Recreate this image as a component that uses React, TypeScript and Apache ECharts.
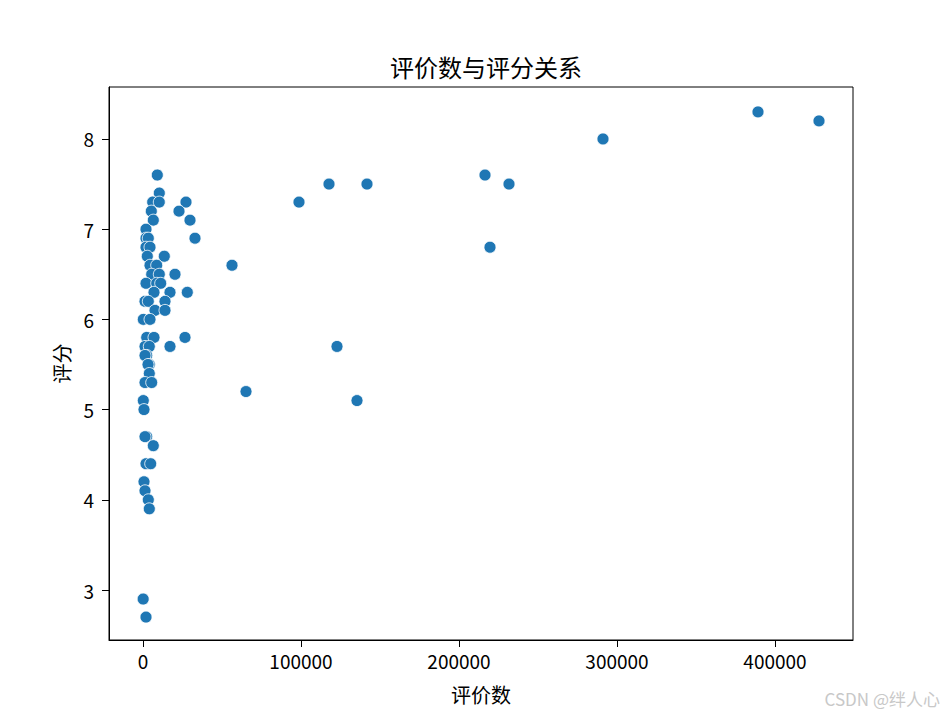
import React, { useEffect, useRef } from "react";
import * as echarts from "echarts";

const reviewCounts: number[] = [
  9051, 10316, 6139, 10300, 27215, 5253, 22785, 6519, 29747, 1899,
  1899, 3354, 32911, 1899, 4430, 2721, 13481, 4430, 8671, 5506,
  10316, 20253, 1899, 8671, 11200, 6962, 17089, 28038, 1266, 3354,
  13924, 7595, 13924, 190, 4430, 2342, 6962, 26582, 1266, 3987,
  17089, 2342, 1266, 3987, 3165, 3987, 1266, 5506, 65190, 190,
  135443, 633, 2342, 1266, 6519, 1899, 4873, 633, 1266, 3354,
  3987, 100, 1899, 56329, 98734, 117722, 141772, 231646, 216456, 219620,
  122785, 291139, 389240, 427848,
];
const ratings: number[] = [
  7.6, 7.4, 7.3, 7.3, 7.3, 7.2, 7.2, 7.1, 7.1, 7.0,
  6.9, 6.9, 6.9, 6.8, 6.8, 6.7, 6.7, 6.6, 6.6, 6.5,
  6.5, 6.5, 6.4, 6.4, 6.4, 6.3, 6.3, 6.3, 6.2, 6.2,
  6.2, 6.1, 6.1, 6.0, 6.0, 5.8, 5.8, 5.8, 5.7, 5.7,
  5.7, 5.6, 5.6, 5.5, 5.5, 5.4, 5.3, 5.3, 5.2, 5.1,
  5.1, 5.0, 4.7, 4.7, 4.6, 4.4, 4.4, 4.2, 4.1, 4.0,
  3.9, 2.9, 2.7, 6.6, 7.3, 7.5, 7.5, 7.5, 7.6, 6.8,
  5.7, 8.0, 8.3, 8.2,
];
const xTicks: number[] = [0, 100000, 200000, 300000, 400000];
const yTicks: number[] = [3, 4, 5, 6, 7, 8];

const FONT = "'Noto Sans CJK SC', 'Noto Sans', sans-serif";

export default function App() {
  const ref = useRef<HTMLDivElement>(null);
  useEffect(() => {
    document.body.style.margin = "0";
    if (!ref.current) return;
    const chart = echarts.init(ref.current, null, { renderer: "svg" });
    const data = reviewCounts.map((x, i) => [x, ratings[i]]);
    chart.setOption({
      animation: false,
      backgroundColor: "#ffffff",
      title: {
        text: "评价数与评分关系",
        left: 481,
        textAlign: "center",
        top: 49,
        textStyle: { fontFamily: FONT, fontSize: 24, fontWeight: "normal", color: "#000" },
      },
      grid: {
        left: 109,
        right: 92,
        top: 87,
        bottom: 74,
        show: true,
        borderColor: "#000",
        borderWidth: 1,
        backgroundColor: "transparent",
      },
      xAxis: {
        type: "value",
        min: -21519,
        max: 449367,
        name: "评价数",
        nameLocation: "middle",
        nameGap: 44,
        nameTextStyle: { fontFamily: FONT, fontSize: 20, color: "#000" },
        axisLine: { show: true, onZero: false, lineStyle: { color: "#000", width: 1 } },
        axisTick: { show: true, length: 7, lineStyle: { color: "#000" }, customValues: xTicks },
        axisLabel: {
          fontFamily: FONT,
          fontSize: 19,
          color: "#000",
          margin: 11,
          customValues: xTicks,
          formatter: (v: number) => String(v),
        },
        splitLine: { show: false },
      },
      yAxis: {
        type: "value",
        min: 2.446,
        max: 8.576,
        name: "评分",
        nameLocation: "middle",
        nameGap: 38,
        nameRotate: 90,
        nameTextStyle: { fontFamily: FONT, fontSize: 20, color: "#000" },
        axisLine: { show: true, onZero: false, lineStyle: { color: "#000", width: 1 } },
        axisTick: { show: true, length: 7, lineStyle: { color: "#000" }, customValues: yTicks },
        axisLabel: {
          fontFamily: FONT,
          fontSize: 19,
          color: "#000",
          margin: 15,
          customValues: yTicks,
          formatter: (v: number) => String(v),
        },
        splitLine: { show: false },
      },
      graphic: [
        {
          type: "text",
          right: 5,
          top: 690,
          style: { text: "CSDN @绊人心", fontFamily: FONT, fontSize: 17, fill: "#c8c8c8" },
        },
      ],
      series: [
        {
          type: "scatter",
          data,
          symbolSize: 12,
          itemStyle: { color: "#1f77b4", borderColor: "#ffffff", borderWidth: 0.8, opacity: 1 },
        },
      ],
    });
    return () => chart.dispose();
  }, []);
  return <div ref={ref} style={{ width: 945, height: 714 }} />;
}
